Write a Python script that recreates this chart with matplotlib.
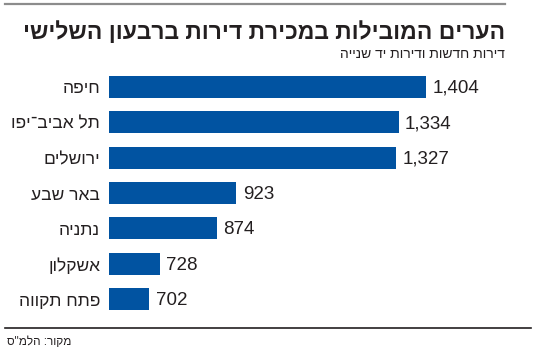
import matplotlib
matplotlib.use('Agg')
import matplotlib.pyplot as plt
from matplotlib.lines import Line2D

title = 'הערים המובילות במכירת דירות ברבעון השלישי'
subtitle = 'דירות חדשות ודירות יד שנייה'
source = 'מקור: הלמ"ס'
cities = ['חיפה', 'תל אביב־יפו', 'ירושלים', 'באר שבע', 'נתניה', 'אשקלון', 'פתח תקווה']
sales = [1404, 1334, 1327, 923, 874, 728, 702]
base = 600  # bars start here, not at zero

BLUE = '#0153a1'
INK = '#231f20'
HEB = ['Liberation Sans', 'DejaVu Sans']
NUM = ['Liberation Sans', 'DejaVu Sans']


def rtl(s):
    # matplotlib has no bidi support, so flip the string for display
    return s[::-1]


W, H = 550, 354
fig = plt.figure(figsize=(W / 100, H / 100), dpi=100)
ax = fig.add_axes([109 / W, 1 - 317 / H, 422 / W, (317 - 69) / H])

pos = list(range(len(cities)))
ax.barh(pos, [v - base for v in sales], left=base, height=0.62, color=BLUE)
ax.set_xlim(base, base + 422 / 0.3946)
ax.set_ylim(len(cities) - 0.5, -0.5)
ax.axis('off')

for i, (c, v) in enumerate(zip(cities, sales)):
    ax.text(v + 16, i + 0.04, f'{v:,}', ha='left', va='center',
            fontsize=13.5, color=INK, family=NUM)
    ax.text(-9 / 422, i + 0.06, rtl(c), ha='right', va='center',
            fontsize=12.5, color=INK, family=HEB,
            transform=ax.get_yaxis_transform())

fig.add_artist(Line2D([5 / W, 505 / W], [1 - 4 / H] * 2, color='#8c8c8c',
                      lw=1.6, transform=fig.transFigure))
fig.add_artist(Line2D([5 / W, 531 / W], [1 - 328 / H] * 2, color=INK,
                      lw=1.2, transform=fig.transFigure))

fig.text(505 / W, 1 - 39 / H, rtl(title), ha='right', va='baseline',
         fontsize=16.5, fontweight='bold', color=INK, family=HEB)
fig.text(505 / W, 1 - 58 / H, rtl(subtitle), ha='right', va='baseline',
         fontsize=10, color=INK, family=HEB)
fig.text(7 / W, 1 - 345 / H, rtl(source), ha='left', va='baseline',
         fontsize=8.5, color=INK, family=HEB)

fig.savefig('out.png', dpi=100)
